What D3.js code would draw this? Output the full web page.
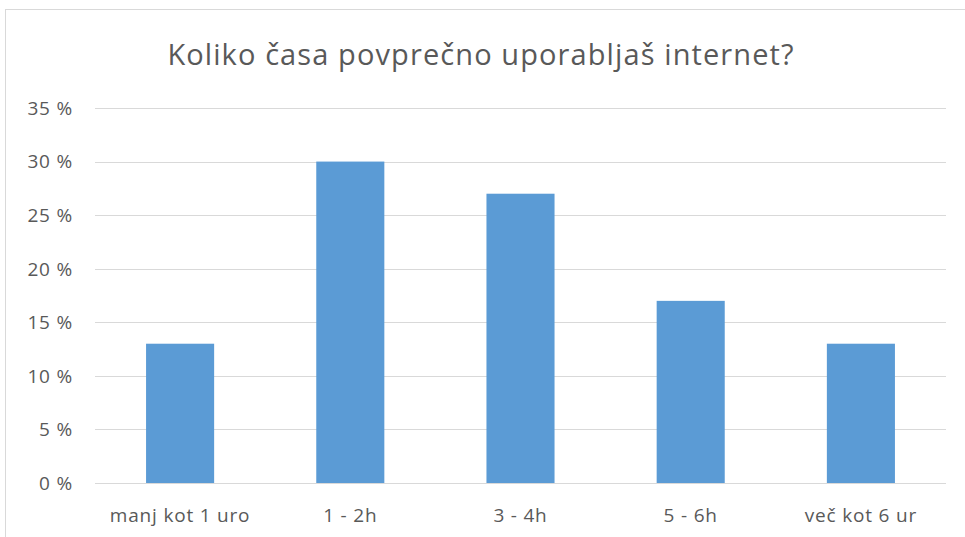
<!DOCTYPE html>
<html>
<head>
<meta charset="utf-8">
<script src="https://cdn.jsdelivr.net/npm/d3@7"></script>
<style>
  body { margin: 0; background: #fff; }
  svg text { font-family: "Open Sans", sans-serif; fill: #595959; }
</style>
</head>
<body>
<svg width="965" height="537"></svg>
<script>
var categories = ["manj kot 1 uro", "1 - 2h", "3 - 4h", "5 - 6h", "več kot 6 ur"];
var values = [13, 30, 27, 17, 13];
var yTicks = [0, 5, 10, 15, 20, 25, 30, 35];
var title = "Koliko časa povprečno uporabljaš internet?";

var svg = d3.select("svg"),
    width = +svg.attr("width"),
    height = +svg.attr("height");

var margin = {top: 108, right: 19, bottom: 54, left: 95};

// chart frame (cut off at right and bottom)
svg.append("rect")
    .attr("x", 5.5).attr("y", 9.5)
    .attr("width", 980).attr("height", 560)
    .attr("fill", "#fff")
    .attr("stroke", "#d9d9d9");

var x = d3.scaleBand()
    .domain(categories)
    .range([margin.left, width - margin.right])
    .paddingInner(0.6)
    .paddingOuter(0.3);

var y = d3.scaleLinear()
    .domain([0, 35])
    .range([height - margin.bottom, margin.top]);

// gridlines
svg.append("g")
    .selectAll("line")
    .data(yTicks)
    .enter().append("line")
    .attr("x1", margin.left)
    .attr("x2", width - margin.right)
    .attr("y1", function(d) { return Math.round(y(d)) + 0.5; })
    .attr("y2", function(d) { return Math.round(y(d)) + 0.5; })
    .attr("stroke", "#d9d9d9")
    .attr("stroke-width", 1);

// y labels
svg.append("g")
    .selectAll("text")
    .data(yTicks)
    .enter().append("text")
    .attr("x", 73)
    .attr("y", function(d) { return y(d); })
    .attr("dy", "0.36em")
    .attr("text-anchor", "end")
    .attr("font-size", 19)
    .attr("letter-spacing", 0.8)
    .text(function(d) { return d + " %"; });

// bars
svg.append("g")
    .selectAll("rect")
    .data(values)
    .enter().append("rect")
    .attr("x", function(d, i) { return x(categories[i]); })
    .attr("y", function(d) { return y(d); })
    .attr("width", x.bandwidth())
    .attr("height", function(d) { return y(0) - y(d); })
    .attr("fill", "#5b9bd5");

// x labels
svg.append("g")
    .selectAll("text")
    .data(categories)
    .enter().append("text")
    .attr("x", function(d) { return x(d) + x.bandwidth() / 2; })
    .attr("y", 522)
    .attr("text-anchor", "middle")
    .attr("font-size", 19)
    .attr("letter-spacing", 0.8)
    .text(function(d) { return d; });

svg.append("text")
    .attr("x", 481)
    .attr("y", 65)
    .attr("text-anchor", "middle")
    .attr("font-size", 29)
    .attr("letter-spacing", 1.1)
    .text(title);
</script>
</body>
</html>
